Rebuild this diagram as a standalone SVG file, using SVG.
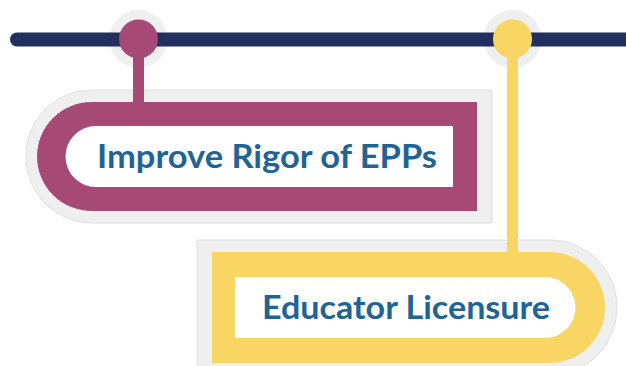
<svg xmlns="http://www.w3.org/2000/svg" width="626" height="366" viewBox="0 0 626 366">
<style>
.halo{fill:#efefef}
.shade{fill:#efefef;stroke:#d9d9d9;stroke-width:0.8}
.inner{fill:#ffffff}
.label{font-family:Lato,"Open Sans","Liberation Sans",sans-serif;font-weight:700;font-size:33px;fill:#1f6494}
.mag{fill:#a64a75}
.yel{fill:#f9d564}
</style>
<rect width="626" height="366" fill="#ffffff"/>
<g id="halos">
<circle class="halo" cx="138.5" cy="39" r="29"/>
<circle class="halo" cx="512.5" cy="39" r="29"/>
</g>
<g id="node-rigor">
<path class="shade" d="M92.5 90 H492 V223 H92.5 A66.5 66.5 0 0 1 92.5 90 Z"/>
<path class="mag" d="M91.5 102 H477 V211 H91.5 A54.5 54.5 0 0 1 91.5 102 Z"/>
<path class="inner" d="M96 126 H453 V187 H96 A30.5 30.5 0 0 1 96 126 Z"/>
<text class="label" x="97" y="168" textLength="340" lengthAdjust="spacingAndGlyphs">Improve Rigor of EPPs</text>
</g>
<g id="node-licensure">
<path class="shade" d="M197 240 H549.5 A67.5 67.5 0 0 1 549.5 375 H197 Z"/>
<path class="yel" d="M212 252 H549.5 A55.5 55.5 0 0 1 549.5 363 H212 Z"/>
<path class="inner" d="M235 277 H545 A30.5 30.5 0 0 1 545 338 H235 Z"/>
<text class="label" x="262" y="319" textLength="288" lengthAdjust="spacingAndGlyphs">Educator Licensure</text>
</g>
<g id="connectors">
<line x1="17" y1="39.5" x2="640" y2="39.5" stroke="#212f5e" stroke-width="14" stroke-linecap="round"/>
<rect class="mag" x="133" y="39" width="11" height="64"/>
<rect class="yel" x="507" y="39" width="11" height="214"/>
<circle class="mag" cx="138.5" cy="39" r="19.5"/>
<circle class="yel" cx="512.5" cy="39" r="19.5"/>
</g>
</svg>
